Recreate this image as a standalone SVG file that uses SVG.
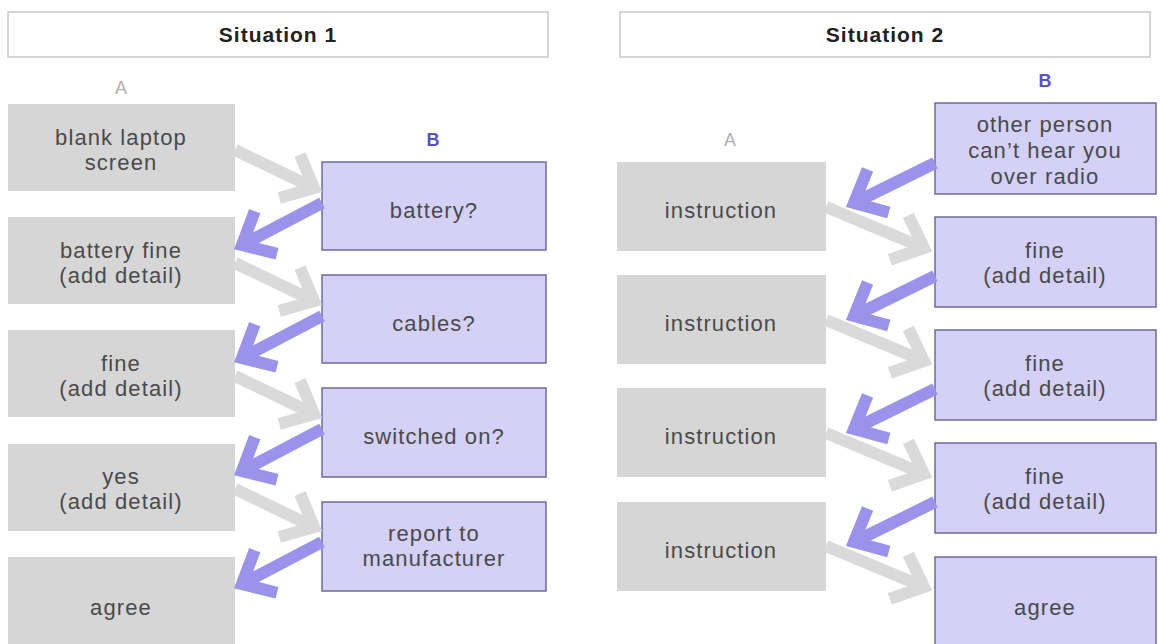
<svg xmlns="http://www.w3.org/2000/svg" width="1161" height="644" viewBox="0 0 1161 644">
<style>
text{font-family:"Liberation Sans",Arial,sans-serif;text-anchor:middle}
.hdr{fill:#fff;stroke:#c8c8c8;stroke-width:1.5}
.ht{font-size:21px;font-weight:bold;fill:#222;letter-spacing:1px}
.ga{fill:#d6d6d6}
.pb{fill:#d4d0f6;stroke:#6f6a9c;stroke-width:1.5}
.t{font-size:22px;fill:#4a4a4a;letter-spacing:1.1px}
.la{font-size:18px;fill:#b0b0b0}
.lb{font-size:18px;font-weight:bold;fill:#5b50c8}
.g{stroke:#dadada;stroke-width:12;fill:none}
.p{stroke:#9b92ec;stroke-width:12;fill:none}
</style>
<defs>
<marker id="hg" markerUnits="userSpaceOnUse" viewBox="-40 -40 50 80" markerWidth="50" markerHeight="80" refX="0" refY="0" orient="auto">
<path d="M-27,-24 L0,0 L-27,24" fill="none" stroke="#dadada" stroke-width="12"/>
</marker>
<marker id="hp" markerUnits="userSpaceOnUse" viewBox="-40 -40 50 80" markerWidth="50" markerHeight="80" refX="0" refY="0" orient="auto">
<path d="M-27,-24 L0,0 L-27,24" fill="none" stroke="#9b92ec" stroke-width="12"/>
</marker>
</defs>
<rect width="1161" height="644" fill="#fff"/>
<g id="header1"><rect class="hdr" x="8" y="12" width="540" height="45"/><text class="ht" x="278" y="42">Situation 1</text></g>
<g id="header2"><rect class="hdr" x="620" y="12" width="530" height="45"/><text class="ht" x="885" y="42">Situation 2</text></g>
<g id="label-a1"><text class="la" x="121" y="94">A</text></g>
<g id="label-b1"><text class="lb" x="433" y="146">B</text></g>
<g id="label-a2"><text class="la" x="730" y="146">A</text></g>
<g id="label-b2"><text class="lb" x="1045" y="87">B</text></g>
<g id="s1a1"><rect class="ga" x="8" y="104" width="227" height="87"/><text class="t" x="121" y="145">blank laptop</text><text class="t" x="121" y="170">screen</text></g>
<g id="s1a2"><rect class="ga" x="8" y="217" width="227" height="87"/><text class="t" x="121" y="258">battery fine</text><text class="t" x="121" y="283">(add detail)</text></g>
<g id="s1a3"><rect class="ga" x="8" y="330" width="227" height="87"/><text class="t" x="121" y="371">fine</text><text class="t" x="121" y="396">(add detail)</text></g>
<g id="s1a4"><rect class="ga" x="8" y="444" width="227" height="87"/><text class="t" x="121" y="484">yes</text><text class="t" x="121" y="509">(add detail)</text></g>
<g id="s1a5"><rect class="ga" x="8" y="557" width="227" height="95"/><text class="t" x="121" y="615">agree</text></g>
<g id="s1b1"><rect class="pb" x="322" y="162" width="224" height="88"/><text class="t" x="434" y="218">battery?</text></g>
<g id="s1b2"><rect class="pb" x="322" y="275" width="224" height="88"/><text class="t" x="434" y="331">cables?</text></g>
<g id="s1b3"><rect class="pb" x="322" y="388" width="224" height="89"/><text class="t" x="434" y="444">switched on?</text></g>
<g id="s1b4"><rect class="pb" x="322" y="502" width="224" height="89"/><text class="t" x="434" y="541">report to</text><text class="t" x="434" y="566">manufacturer</text></g>
<g id="s2a1"><rect class="ga" x="617" y="162" width="209" height="89"/><text class="t" x="721" y="218">instruction</text></g>
<g id="s2a2"><rect class="ga" x="617" y="275" width="209" height="89"/><text class="t" x="721" y="331">instruction</text></g>
<g id="s2a3"><rect class="ga" x="617" y="388" width="209" height="89"/><text class="t" x="721" y="444">instruction</text></g>
<g id="s2a4"><rect class="ga" x="617" y="502" width="209" height="89"/><text class="t" x="721" y="558">instruction</text></g>
<g id="s2b1"><rect class="pb" x="935" y="103" width="221" height="91"/><text class="t" x="1045" y="132">other person</text><text class="t" x="1045" y="158">can’t hear you</text><text class="t" x="1045" y="184">over radio</text></g>
<g id="s2b2"><rect class="pb" x="935" y="217" width="221" height="90"/><text class="t" x="1045" y="258">fine</text><text class="t" x="1045" y="283">(add detail)</text></g>
<g id="s2b3"><rect class="pb" x="935" y="330" width="221" height="90"/><text class="t" x="1045" y="371">fine</text><text class="t" x="1045" y="396">(add detail)</text></g>
<g id="s2b4"><rect class="pb" x="935" y="443" width="221" height="90"/><text class="t" x="1045" y="484">fine</text><text class="t" x="1045" y="509">(add detail)</text></g>
<g id="s2b5"><rect class="pb" x="935" y="557" width="221" height="95"/><text class="t" x="1045" y="615">agree</text></g>
<g id="connectors">
<path class="g" marker-end="url(#hg)" d="M235,150 L314,188"/>
<path class="g" marker-end="url(#hg)" d="M235,263 L314,301"/>
<path class="g" marker-end="url(#hg)" d="M235,376 L314,414"/>
<path class="g" marker-end="url(#hg)" d="M235,489 L314,527"/>
<path class="p" marker-end="url(#hp)" d="M322,203 L242,245"/>
<path class="p" marker-end="url(#hp)" d="M322,316 L242,358"/>
<path class="p" marker-end="url(#hp)" d="M322,429 L242,471"/>
<path class="p" marker-end="url(#hp)" d="M322,542 L242,584"/>
<path class="p" marker-end="url(#hp)" d="M935,163 L854,203"/>
<path class="p" marker-end="url(#hp)" d="M935,276 L854,316"/>
<path class="p" marker-end="url(#hp)" d="M935,389 L854,429"/>
<path class="p" marker-end="url(#hp)" d="M935,502 L854,542"/>
<path class="g" marker-end="url(#hg)" d="M826,207 L924,248"/>
<path class="g" marker-end="url(#hg)" d="M826,320 L924,361"/>
<path class="g" marker-end="url(#hg)" d="M826,433 L924,474"/>
<path class="g" marker-end="url(#hg)" d="M826,546 L924,587"/>
</g>
</svg>
